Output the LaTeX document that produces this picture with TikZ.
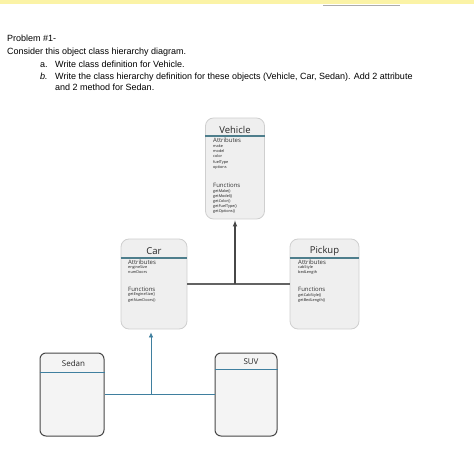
\documentclass[tikz,border=0pt]{standalone}
\usepackage{fontspec}
\usetikzlibrary{arrows.meta}
\setmainfont{Liberation Sans}
\newfontfamily\boxfont{Open Sans}
\definecolor{boxfill}{HTML}{EFEFEF}
\definecolor{boxline}{HTML}{CFCFCF}
\definecolor{tealsep}{HTML}{4E7E8C}
\definecolor{bluelink}{HTML}{3F7F9F}
\definecolor{darkedge}{HTML}{474747}
\definecolor{stripyellow}{HTML}{FBF3A6}
\begin{document}
\begin{tikzpicture}[x=1pt,y=-1pt,
    classbox/.style={draw=boxline,fill=boxfill,rounded corners=8pt,line width=0.8pt,inner sep=0pt},
    plainbox/.style={draw=darkedge,fill=boxfill!70!white,rounded corners=6pt,line width=1pt,inner sep=0pt},
    boxtitle/.style={font=\boxfont\fontsize{9.5}{10}\selectfont,inner sep=0pt,text=black!85},
    smalltitle/.style={font=\boxfont\fontsize{8}{9}\selectfont,inner sep=0pt,text=black!85},
    subhead/.style={font=\boxfont\fontsize{6}{7}\selectfont,inner sep=0pt,anchor=west,text=black!80},
    items/.style={font=\boxfont\fontsize{3.8}{5.2}\selectfont,inner sep=0pt,anchor=north west,align=left,text=black!90},
    prose/.style={font=\fontsize{9}{10}\selectfont,inner sep=0pt,anchor=base west}]
  \useasboundingbox (0,0) rectangle (474,457);
  % page header left over from the worksheet
  \fill[stripyellow] (0,0) rectangle (474,4);
  \draw[gray!65,line width=1.2pt] (323,5.5) -- (400,5.5);
  % problem text
  \node[prose] (prob) at (7,42) {Problem \#1-};
  \node[prose] (cons) at (7,55) {Consider this object class hierarchy diagram.};
  \node[prose] (ia) at (40,68) {a.};
  \node[prose] (ta) at (55,68) {Write class definition for Vehicle.};
  \node[prose] (ib) at (40,80) {\itshape b.};
  \node[prose] (tb) at (55,80) {Write the class hierarchy definition for these objects (Vehicle, Car, Sedan). Add 2 attribute};
  \node[prose] (tc) at (55,91) {and 2 method for Sedan.};
  % Vehicle
  \node[classbox,minimum width=59pt,minimum height=101pt] (vehicle) at (235,168.5) {};
  \node[boxtitle] (vtitle) at (235,130) {Vehicle};
  \draw[tealsep,line width=1.2pt] (vehicle.west |- 0,136) -- (vehicle.east |- 0,136);
  \node[subhead] (vattr) at (213,140.5) {Attributes};
  \node[items] (vattrlist) at (213,144.5) {make\\model\\color\\fuelType\\options};
  \node[subhead] (vfunc) at (213,185) {Functions};
  \node[items] (vfunclist) at (213,189) {getMake()\\getModel()\\getColor()\\getFuelType()\\getOptions()};
  % Car
  \node[classbox,minimum width=66pt,minimum height=90pt] (car) at (154,284) {};
  \node[boxtitle] (ctitle) at (154,251) {Car};
  \draw[tealsep,line width=1.2pt] (car.west |- 0,258) -- (car.east |- 0,258);
  \node[subhead] (cattr) at (128,262) {Attributes};
  \node[items] (cattrlist) at (128,265.5) {engineSize\\numDoors};
  \node[subhead] (cfunc) at (128,289) {Functions};
  \node[items] (cfunclist) at (128,293) {getEngineSize()\\getNumDoors()};
  % Pickup
  \node[classbox,minimum width=69pt,minimum height=90pt] (pickup) at (324.5,284) {};
  \node[boxtitle] (ptitle) at (324.5,251) {Pickup};
  \draw[tealsep,line width=1.2pt] (pickup.west |- 0,258) -- (pickup.east |- 0,258);
  \node[subhead] (pattr) at (298,262) {Attributes};
  \node[items] (pattrlist) at (298,265.5) {cabStyle\\bedLength};
  \node[subhead] (pfunc) at (298,289) {Functions};
  \node[items] (pfunclist) at (298,293) {getCabStyle()\\getBedLength()};
  % Sedan and SUV
  \node[plainbox,minimum width=64pt,minimum height=83pt] (sedan) at (72,394.5) {};
  \node[smalltitle] (stitle) at (73.5,363.5) {Sedan};
  \draw[bluelink,line width=0.8pt] (sedan.west |- 0,372) -- (sedan.east |- 0,372);
  \node[plainbox,minimum width=62pt,minimum height=83pt] (suv) at (246,394.5) {};
  \node[smalltitle] (utitle) at (251,362) {SUV};
  \draw[bluelink,line width=0.8pt] (suv.west |- 0,369) -- (suv.east |- 0,369);
  % links
  \coordinate (vjoin) at (vehicle.south |- car.east);
  \draw[darkedge!85,line width=1.1pt] (car.east) -- (pickup.west);
  \draw[-latex,darkedge,line width=1.1pt,shorten >=1pt] (vjoin) -- (vehicle.south);
  \coordinate (cjoin) at (151,394.5);
  \draw[bluelink,line width=0.7pt] (sedan.east) -- (suv.west);
  \draw[-{Latex[length=5pt,width=4.5pt]},bluelink,line width=0.7pt,shorten >=3pt] (cjoin) -- (cjoin |- car.south);
\end{tikzpicture}
\end{document}
